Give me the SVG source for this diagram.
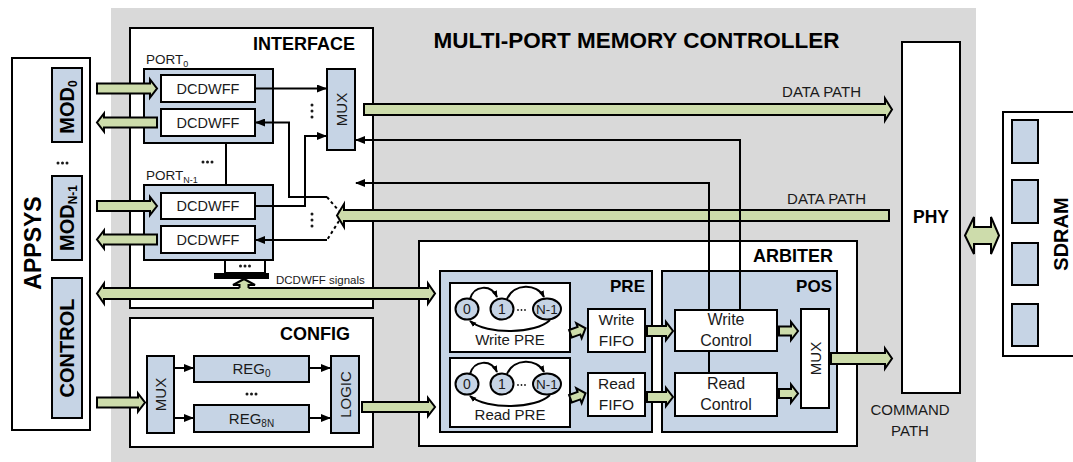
<svg xmlns="http://www.w3.org/2000/svg" width="1073" height="462" viewBox="0 0 1073 462">
<style>
.bx{fill:#fff;stroke:#000;stroke-width:2}
.bl{fill:#c6d4e5;stroke:#000;stroke-width:2}
.ga{fill:#cddcab;stroke:#000;stroke-width:2;stroke-linejoin:miter}
.ln{fill:none;stroke:#000;stroke-width:2}
.dl{fill:none;stroke:#000;stroke-width:2;stroke-dasharray:3 3}
.t{font-family:"Liberation Sans",Arial,sans-serif;fill:#1a1a1a}
.b{font-weight:bold;fill:#000}
.dot{fill:#1a1a1a}
</style>
<defs>
<marker id="ah" viewBox="0 0 10 8" refX="9" refY="4" markerWidth="10" markerHeight="8" markerUnits="userSpaceOnUse" orient="auto"><path d="M0,0 L10,4 L0,8 z" fill="#000"/></marker>
<marker id="sa" viewBox="0 0 8 6" refX="7" refY="3" markerWidth="7" markerHeight="6" markerUnits="userSpaceOnUse" orient="auto"><path d="M0,0 L8,3 L0,6 z" fill="#000"/></marker>
</defs>

<rect x="111" y="8" width="865" height="462" fill="#d9d9d9"/>
<text class="t b" x="636.5" y="48" font-size="22.5" text-anchor="middle">MULTI-PORT MEMORY CONTROLLER</text>

<g id="appsys">
<rect class="bx" x="12" y="58" width="78" height="372"/>
<text class="t b" transform="translate(33,243) rotate(-90)" font-size="23" text-anchor="middle" dominant-baseline="central">APPSYS</text>
<rect class="bl" x="52" y="68" width="30" height="74"/>
<text class="t b" transform="translate(74,107) rotate(-90)" font-size="20" text-anchor="middle">MOD<tspan font-size="12" dy="3">0</tspan></text>
<circle class="dot" cx="58" cy="163" r="1.5"/><circle class="dot" cx="62.5" cy="163" r="1.5"/><circle class="dot" cx="67" cy="163" r="1.5"/>
<rect class="bl" x="52" y="176" width="30" height="84"/>
<text class="t b" transform="translate(74,218) rotate(-90)" font-size="20" text-anchor="middle">MOD<tspan font-size="12" dy="3">N-1</tspan></text>
<rect class="bl" x="52" y="278" width="30" height="140"/>
<text class="t b" transform="translate(67,348) rotate(-90)" font-size="20" text-anchor="middle" dominant-baseline="central">CONTROL</text>
</g>

<g id="interface">
<rect class="bx" x="130" y="28" width="243" height="280"/>
<text class="t b" x="355" y="50" font-size="18" text-anchor="end">INTERFACE</text>
<text class="t" x="146" y="64" font-size="13.5">PORT<tspan font-size="9" dy="3">0</tspan></text>
<rect class="bl" x="144" y="69" width="129" height="74"/>
<rect class="bx" x="161" y="75" width="94" height="27"/>
<text class="t" x="208" y="93.5" font-size="14.5" text-anchor="middle">DCDWFF</text>
<rect class="bx" x="161" y="109" width="94" height="27"/>
<text class="t" x="208" y="127.5" font-size="14.5" text-anchor="middle">DCDWFF</text>
<line class="ln" x1="226" y1="143" x2="226" y2="185"/>
<circle class="dot" cx="203" cy="162" r="1.5"/><circle class="dot" cx="207.5" cy="162" r="1.5"/><circle class="dot" cx="212" cy="162" r="1.5"/>
<text class="t" x="146" y="180" font-size="13.5">PORT<tspan font-size="9" dy="3">N-1</tspan></text>
<rect class="bl" x="144" y="185" width="129" height="75"/>
<rect class="bx" x="161" y="193" width="94" height="26"/>
<text class="t" x="208" y="211" font-size="14.5" text-anchor="middle">DCDWFF</text>
<rect class="bx" x="161" y="226" width="94" height="27"/>
<text class="t" x="208" y="244.5" font-size="14.5" text-anchor="middle">DCDWFF</text>
<rect class="bx" x="225" y="260" width="40" height="13"/>
<circle class="dot" cx="240.5" cy="266" r="1.5"/><circle class="dot" cx="245" cy="266" r="1.5"/><circle class="dot" cx="249.5" cy="266" r="1.5"/>
<rect x="214" y="273" width="55" height="6" fill="#000"/>
<text class="t" x="276" y="284" font-size="11.5">DCDWFF signals</text>
<rect class="bl" x="327" y="69" width="28" height="81"/>
<text class="t" transform="translate(341,109.5) rotate(-90)" font-size="15" text-anchor="middle" dominant-baseline="central">MUX</text>
<circle class="dot" cx="312" cy="105" r="1.5"/><circle class="dot" cx="312" cy="111" r="1.5"/><circle class="dot" cx="312" cy="117" r="1.5"/>
<circle class="dot" cx="312" cy="214" r="1.5"/><circle class="dot" cx="312" cy="220" r="1.5"/><circle class="dot" cx="312" cy="226" r="1.5"/>
</g>

<g id="config">
<rect class="bx" x="130" y="318" width="243" height="129"/>
<text class="t b" x="350" y="340" font-size="18" text-anchor="end">CONFIG</text>
<rect class="bl" x="147" y="356" width="27" height="77"/>
<text class="t" transform="translate(160.5,394.5) rotate(-90)" font-size="15" text-anchor="middle" dominant-baseline="central">MUX</text>
<rect class="bl" x="194" y="356" width="115" height="26"/>
<text class="t" x="251.5" y="374" font-size="15" text-anchor="middle">REG<tspan font-size="10" dy="3">0</tspan></text>
<circle class="dot" cx="247" cy="394" r="1.5"/><circle class="dot" cx="251.5" cy="394" r="1.5"/><circle class="dot" cx="256" cy="394" r="1.5"/>
<rect class="bl" x="194" y="405" width="115" height="27"/>
<text class="t" x="251.5" y="424" font-size="15" text-anchor="middle">REG<tspan font-size="10" dy="3">8N</tspan></text>
<rect class="bl" x="331" y="356" width="28" height="77"/>
<text class="t" transform="translate(345,394.5) rotate(-90)" font-size="15" text-anchor="middle" dominant-baseline="central">LOGIC</text>
</g>

<g id="arbiter">
<rect class="bx" x="419" y="241" width="438" height="205"/>
<text class="t b" x="833" y="262" font-size="18" text-anchor="end">ARBITER</text>
</g>

<g id="pre">
<rect class="bl" x="440" y="271" width="212" height="161"/>
<text class="t b" x="645" y="292" font-size="17" text-anchor="end">PRE</text>
</g>

<g id="write-pre">
<rect class="bx" x="450" y="283" width="120" height="69"/>
<ellipse class="bl" cx="467" cy="309" rx="11.5" ry="10.5"/>
<text class="t" x="467" y="314" font-size="14" text-anchor="middle">0</text>
<ellipse class="bl" cx="502" cy="309" rx="11.5" ry="10.5"/>
<text class="t" x="502" y="314" font-size="14" text-anchor="middle">1</text>
<ellipse class="bl" cx="547" cy="309" rx="14" ry="10.5"/>
<text class="t" x="547" y="314" font-size="13.5" text-anchor="middle">N-1</text>
<circle class="dot" cx="518" cy="310" r="0.9"/><circle class="dot" cx="521.5" cy="310" r="0.9"/><circle class="dot" cx="525" cy="310" r="0.9"/>
<path class="ln" d="M470,299 C474,285 491,284 497,297" marker-end="url(#sa)"/>
<path class="ln" d="M507,299 C514,283 537,283 544,297" marker-end="url(#sa)"/>
<path class="ln" d="M550,320 C536,334 487,335 470,321" marker-end="url(#sa)"/>
<text class="t" x="510" y="345" font-size="15" text-anchor="middle">Write PRE</text>
</g>

<g id="read-pre">
<rect class="bx" x="450" y="358" width="120" height="69"/>
<ellipse class="bl" cx="467" cy="384" rx="11.5" ry="10.5"/>
<text class="t" x="467" y="389" font-size="14" text-anchor="middle">0</text>
<ellipse class="bl" cx="502" cy="384" rx="11.5" ry="10.5"/>
<text class="t" x="502" y="389" font-size="14" text-anchor="middle">1</text>
<ellipse class="bl" cx="547" cy="384" rx="14" ry="10.5"/>
<text class="t" x="547" y="389" font-size="13.5" text-anchor="middle">N-1</text>
<circle class="dot" cx="518" cy="385" r="0.9"/><circle class="dot" cx="521.5" cy="385" r="0.9"/><circle class="dot" cx="525" cy="385" r="0.9"/>
<path class="ln" d="M470,374 C474,360 491,359 497,372" marker-end="url(#sa)"/>
<path class="ln" d="M507,374 C514,358 537,358 544,372" marker-end="url(#sa)"/>
<path class="ln" d="M550,395 C536,409 487,410 470,396" marker-end="url(#sa)"/>
<text class="t" x="510" y="420" font-size="15" text-anchor="middle">Read PRE</text>
</g>

<g id="write-fifo">
<rect class="bx" x="588" y="309" width="57" height="43"/>
<text class="t" x="616.5" y="325" font-size="15.5" text-anchor="middle">Write</text>
<text class="t" x="616.5" y="346" font-size="15.5" text-anchor="middle">FIFO</text>
</g>
<g id="read-fifo">
<rect class="bx" x="588" y="373" width="57" height="43"/>
<text class="t" x="616.5" y="389" font-size="15.5" text-anchor="middle">Read</text>
<text class="t" x="616.5" y="410" font-size="15.5" text-anchor="middle">FIFO</text>
</g>

<g id="pos">
<rect class="bl" x="662" y="271" width="175" height="161"/>
<text class="t b" x="832" y="292" font-size="17" text-anchor="end">POS</text>
</g>
<g id="write-control">
<rect class="bx" x="675" y="310" width="102" height="41"/>
<text class="t" x="726" y="325" font-size="16" text-anchor="middle">Write</text>
<text class="t" x="726" y="346" font-size="16" text-anchor="middle">Control</text>
</g>
<g id="read-control">
<rect class="bx" x="675" y="373" width="102" height="43"/>
<text class="t" x="726" y="389" font-size="16" text-anchor="middle">Read</text>
<text class="t" x="726" y="410" font-size="16" text-anchor="middle">Control</text>
</g>
<g id="pos-mux">
<rect class="bx" x="801" y="309" width="28" height="99"/>
<text class="t" transform="translate(815,358.5) rotate(-90)" font-size="15" text-anchor="middle" dominant-baseline="central">MUX</text>
</g>

<g id="phy">
<rect class="bx" x="902" y="42" width="58" height="351"/>
<text class="t b" x="931" y="223" font-size="17.5" text-anchor="middle">PHY</text>
</g>

<g id="sdram">
<rect class="bx" x="1003" y="112" width="80" height="244"/>
<rect class="bl" x="1012" y="120" width="26" height="43"/>
<rect class="bl" x="1012" y="180" width="26" height="43"/>
<rect class="bl" x="1012" y="243" width="26" height="42"/>
<rect class="bl" x="1012" y="304" width="26" height="42"/>
<text class="t b" transform="translate(1061,234) rotate(-90)" font-size="20" text-anchor="middle" dominant-baseline="central">SDRAM</text>
</g>

<g id="connectors">
<polygon class="ga" points="97,83.5 150,83.5 150,79.5 157,88.5 150,97.5 150,93.5 97,93.5"/>
<polygon class="ga" points="157,117.5 104,117.5 104,113.5 97,122.5 104,131.5 104,127.5 157,127.5"/>
<polygon class="ga" points="97,201 150,201 150,197 157,206 150,215 150,211 97,211"/>
<polygon class="ga" points="157,234.5 104,234.5 104,230.5 97,239.5 104,248.5 104,244.5 157,244.5"/>
<polygon class="ga" points="97,293.5 104,283.5 104,288 428,288 428,283.5 435,293.5 428,303.5 428,299 104,299 104,303.5"/>
<path d="M239.5,290 V285 H233 L244,279 L255,285 H248.5 V290 Z" fill="#cddcab"/>
<path class="ln" d="M239.5,288 V285 H233 L244,279 L255,285 H248.5 V288"/>
<polygon class="ga" points="97,397.5 138,397.5 138,393.5 145,402.5 138,411.5 138,407.5 97,407.5"/>
<polygon class="ga" points="362,402 428,402 428,398 435,407 428,416 428,412 362,412"/>
<polygon class="ga" points="364,104 885,104 885,98.5 892,109.5 885,120.5 885,115 364,115"/>
<text class="t" x="861" y="97" font-size="15" text-anchor="end">DATA PATH</text>
<polygon class="ga" points="889,210 344,210 344,204 337,215.5 344,227 344,221 889,221"/>
<text class="t" x="866" y="204" font-size="15" text-anchor="end">DATA PATH</text>
<polygon class="ga" points="-8,-4 1,-4 1,-8 8,0 1,8 1,4 -8,4" transform="translate(578,331) rotate(-20)"/>
<polygon class="ga" points="-8,-4 1,-4 1,-8 8,0 1,8 1,4 -8,4" transform="translate(578,396) rotate(-20)"/>
<polygon class="ga" points="647,326 666,326 666,322 673,331 666,340 666,336 647,336"/>
<polygon class="ga" points="647,392 666,392 666,388 673,397 666,406 666,402 647,402"/>
<polygon class="ga" points="779,326.5 791,326.5 791,322 798,331 791,340 791,335.5 779,335.5"/>
<polygon class="ga" points="779,389 791,389 791,384.5 798,393.5 791,402.5 791,398 779,398"/>
<polygon class="ga" points="831,353 885,353 885,348.5 892,358.5 885,368.5 885,364 831,364"/>
<text class="t" x="910" y="415" font-size="15" text-anchor="middle">COMMAND</text>
<text class="t" x="910" y="436" font-size="15" text-anchor="middle">PATH</text>
<polygon class="ga" points="965,235.5 974,217 974,227 991,227 991,217 999,235.5 991,254 991,244 974,244 974,254"/>

<path class="ln" d="M255,88.5 H326" marker-end="url(#ah)"/>
<path class="ln" d="M327,197 H289 V122.5 H256" marker-end="url(#ah)"/>
<path class="ln" d="M255,206 H305 V136 H326" marker-end="url(#ah)"/>
<path class="ln" d="M327,240 H256" marker-end="url(#ah)"/>
<path class="dl" d="M327,197 L339,211"/>
<path class="dl" d="M339,221 L327,240"/>
<path class="ln" d="M740,310 V140 H356" marker-end="url(#ah)"/>
<path class="ln" d="M709,310 V183 H356" marker-end="url(#ah)"/>
<path class="ln" d="M709,351 V373"/>
<path class="ln" d="M174,368 H193" marker-end="url(#ah)"/>
<path class="ln" d="M174,418 H193" marker-end="url(#ah)"/>
<path class="ln" d="M309,368 H330" marker-end="url(#ah)"/>
<path class="ln" d="M309,418 H330" marker-end="url(#ah)"/>
</g>
</svg>
